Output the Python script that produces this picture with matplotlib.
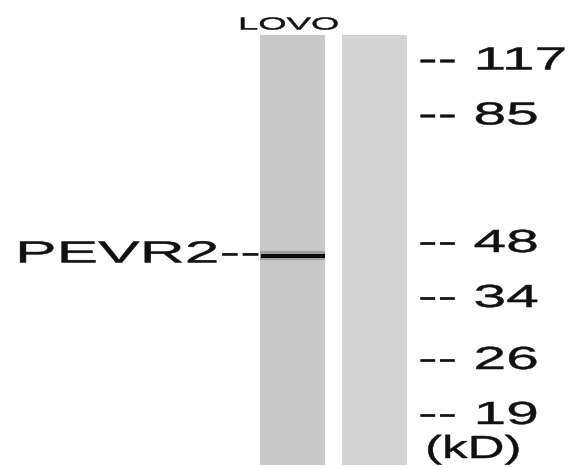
import matplotlib
matplotlib.use('Agg')
import matplotlib.pyplot as plt
import matplotlib.patheffects as pe
from matplotlib.transforms import Affine2D

# marker ladder (kD) and where each one sits on the blot (pixel rows)
marker_kd = ['117', '85', '48', '34', '26', '19']
marker_y = [61.5, 116.5, 244, 299, 361, 416]

lanes = ['LOVO', '']
lane_x = [292.5, 374.5]
lane_colors = ['#c8c8c8', '#d3d3d3']
lane_top, lane_bottom = 35, 465

band_label = 'PEVR2'
band_lane = 0
band_y = 255.5


class Stretch(pe.AbstractPathEffect):
    # the scanned labels are stretched sideways, widen the glyphs from the text origin
    def __init__(self, sx):
        super().__init__()
        self.sx = sx

    def draw_path(self, renderer, gc, tpath, affine, rgbFace=None):
        x0 = affine.get_matrix()[0, 2]
        t = affine + Affine2D().translate(-x0, 0).scale(self.sx, 1).translate(x0, 0)
        gc0 = renderer.new_gc()
        gc0.copy_properties(gc)
        gc0.set_linewidth(0.35)
        gc0.set_foreground(rgbFace)
        renderer.draw_path(gc0, tpath, t, rgbFace)
        gc0.restore()


plt.rcParams['font.family'] = ['Liberation Sans', 'DejaVu Sans']

fig = plt.figure(figsize=(5.79, 4.68), dpi=100)
ax = fig.add_axes([0, 0, 1, 1])
ax.set_xlim(0, 579)
ax.set_ylim(468, 0)
ax.axis('off')

ax.bar(lane_x, lane_bottom - lane_top, bottom=lane_top, width=65,
       color=lane_colors, edgecolor='none')

# band: soft halo + dark core
bx = lane_x[band_lane]
ax.bar(bx, 9, bottom=band_y - 4.5, width=65, color='#555555', alpha=0.35, edgecolor='none')
ax.bar(bx, 4, bottom=band_y - 2, width=64, color='#0a0a0a', edgecolor='none')

ax.text(238, 25, lanes[0], fontsize=12.5, color='#111111', ha='left', va='center',
        path_effects=[Stretch(2.1)])

ax.text(15, band_y - 1, band_label + '--', fontsize=22, color='#111111', ha='left',
        va='center', path_effects=[Stretch(2.04)])

for kd, y in zip(marker_kd, marker_y):
    ax.text(418, y, '-- ' + kd, fontsize=23, color='#111111', ha='left', va='center',
            path_effects=[Stretch(1.84)])

ax.text(425, 450, '(kD)', fontsize=23, color='#111111', ha='left', va='center',
        path_effects=[Stretch(1.6)])

fig.savefig('out.png', dpi=100)
